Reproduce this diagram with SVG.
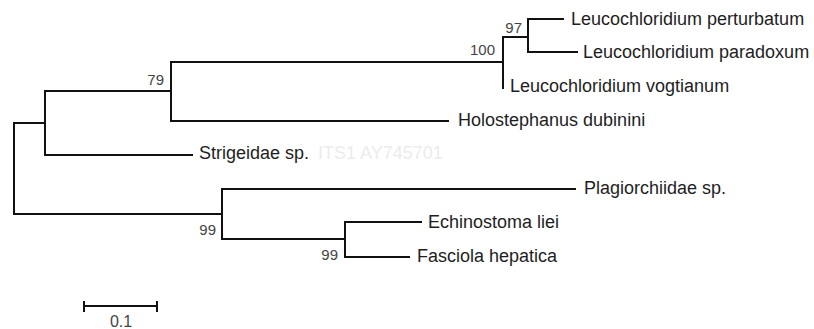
<svg xmlns="http://www.w3.org/2000/svg" width="814" height="329" viewBox="0 0 814 329">
<style>
  .br { fill: none; stroke: #111; stroke-width: 2; stroke-linecap: square; }
  .leaf { font-family: "Liberation Sans", Arial, sans-serif; font-size: 18px; fill: #1e1e1e; }
  .bs { font-family: "Liberation Sans", Arial, sans-serif; font-size: 15px; fill: #444; text-anchor: end; }
  .ghost { font-family: "Liberation Sans", Arial, sans-serif; font-size: 18px; fill: #ececec; }
</style>
<rect width="814" height="329" fill="#fff"/>
<g id="connectors">
  <path class="br" d="M45,123 H14 V214 H222"/>
  <path class="br" d="M45,91 V155 H192 M45,91 H171"/>
  <path class="br" d="M171,62 V121 H448 M171,62 H503"/>
  <path class="br" d="M503,37 V88 M503,37 H528"/>
  <path class="br" d="M528,19 V52 H577 M528,19 H563"/>
  <path class="br" d="M222,189 V239 H345 M222,189 H575"/>
  <path class="br" d="M345,222 V257 H409 M345,222 H421"/>
</g>
<g id="leaf-perturbatum"><text class="leaf" x="571" y="25">Leucochloridium perturbatum</text></g>
<g id="leaf-paradoxum"><text class="leaf" x="583" y="58">Leucochloridium paradoxum</text></g>
<g id="leaf-vogtianum"><text class="leaf" x="510" y="92">Leucochloridium vogtianum</text></g>
<g id="leaf-holostephanus"><text class="leaf" x="458" y="126">Holostephanus dubinini</text></g>
<g id="leaf-strigeidae"><text class="leaf" x="199" y="159">Strigeidae sp.</text><text class="ghost" x="318" y="159">ITS1  AY745701</text></g>
<g id="leaf-plagiorchiidae"><text class="leaf" x="584" y="194">Plagiorchiidae sp.</text></g>
<g id="leaf-echinostoma"><text class="leaf" x="428" y="228">Echinostoma liei</text></g>
<g id="leaf-fasciola"><text class="leaf" x="417" y="262">Fasciola hepatica</text></g>
<g id="bootstrap">
  <text class="bs" x="164" y="85">79</text>
  <text class="bs" x="495" y="55">100</text>
  <text class="bs" x="522" y="33">97</text>
  <text class="bs" x="216" y="235">99</text>
  <text class="bs" x="338" y="260">99</text>
</g>
<g id="scale-bar">
  <path class="br" d="M84,306 H157 M84,302 V311 M157,302 V311"/>
  <text class="bs" x="121" y="327" style="text-anchor:middle;font-size:16px">0.1</text>
</g>
</svg>
